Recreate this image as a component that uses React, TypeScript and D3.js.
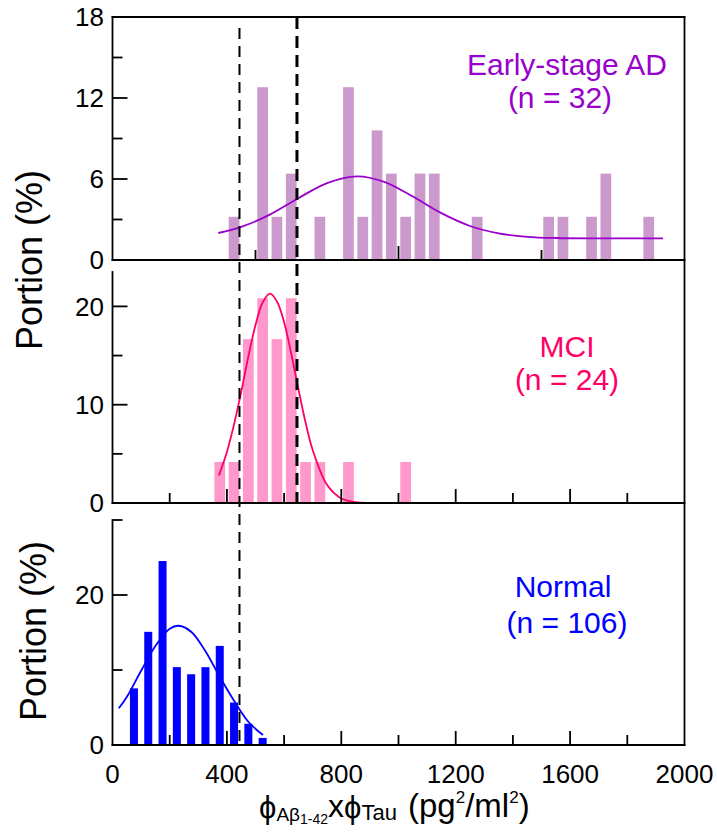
import React from 'react';
import * as d3 from 'd3';

// ---------- data ----------
// Early-stage AD (n = 32)
const adBinCenters = [425, 525, 575, 625, 725, 825, 875, 925, 975, 1025, 1075, 1125, 1275, 1525, 1575, 1675, 1725, 1875];
const adPortion = [3.2, 12.8, 3.2, 6.4, 3.2, 12.8, 3.2, 9.6, 6.4, 3.2, 6.4, 6.4, 3.2, 3.2, 3.2, 3.2, 6.4, 3.2];
const adFitX = [370, 450, 550, 650, 750, 855, 950, 1050, 1150, 1250, 1350, 1450, 1550, 1700, 1925];
const adFitY = [2.0, 2.45, 3.36, 4.58, 5.7, 6.2, 5.79, 4.7, 3.47, 2.52, 1.97, 1.72, 1.63, 1.6, 1.6];

// MCI (n = 24)
const mciBinCenters = [375, 425, 475, 525, 575, 625, 675, 725, 825, 1025];
const mciPortion = [4.17, 4.17, 16.67, 20.83, 16.67, 20.83, 4.17, 4.17, 4.17, 4.17];
const mciFitX = [372, 400, 425, 450, 475, 500, 525, 551, 575, 600, 625, 650, 675, 700, 750, 800, 850, 900, 1000, 1075];
const mciFitY = [2.8, 5.2, 8.0, 11.3, 14.9, 18.1, 20.4, 21.3, 20.5, 18.4, 15.2, 11.6, 8.2, 5.4, 1.85, 0.46, 0.09, 0.01, 0, 0];

// Normal (n = 106)
const normalBinCenters = [75, 125, 175, 225, 275, 325, 375, 425, 475, 525];
const normalPortion = [7.55, 15.09, 24.53, 10.38, 9.43, 10.38, 13.21, 5.66, 2.83, 0.94];
const normalFitX = [22, 50, 100, 150, 200, 231, 275, 325, 375, 425, 475, 526];
const normalFitY = [4.9, 6.4, 9.9, 13.2, 15.5, 15.9, 15.1, 12.5, 9.1, 5.9, 3.1, 1.33];

// cut-off lines
const cutoffLow = 444;
const cutoffHigh = 645;

// ticks
const xTickLabels = [0, 400, 800, 1200, 1600, 2000];
const xTicksFine = [200, 400, 600, 800, 1000, 1200, 1400, 1600, 1800];
const xTicksTop = [500, 1000, 1500];
const adYTicks = [0, 3, 6, 9, 12, 15, 18];
const adYLabels = [0, 6, 12, 18];
const mciYTicks = [0, 5, 10, 15, 20];
const mciYLabels = [0, 10, 20];
const normalYTicks = [0, 10, 20, 30];
const normalYLabels = [0, 20];

const FONT = "'Liberation Sans', Arial, Helvetica, sans-serif";

export default function App() {
  const x = d3.scaleLinear().domain([0, 2000]).range([112.5, 684.5]);
  const L = 112.5, R = 684.5;

  const panels = [
    {
      key: 'ad', y: d3.scaleLinear().domain([0, 18]).range([260, 17]), top: 17,
      centers: adBinCenters, vals: adPortion, fitX: adFitX, fitY: adFitY, barW: 37.5,
      barColor: '#CC99CC', lineColor: '#9900CC',
      yTicks: adYTicks, yLabels: adYLabels, xTicks: xTicksTop, xMajor: [1000],
    },
    {
      key: 'mci', y: d3.scaleLinear().domain([0, 23.5]).range([503, 272]), top: 272,
      centers: mciBinCenters, vals: mciPortion, fitX: mciFitX, fitY: mciFitY, barW: 37.5,
      barColor: '#FF99CC', lineColor: '#FF0066',
      yTicks: mciYTicks, yLabels: mciYLabels, xTicks: xTicksFine, xMajor: [400, 800, 1200, 1600],
    },
    {
      key: 'normal', y: d3.scaleLinear().domain([0, 30]).range([745, 520]), top: 520,
      centers: normalBinCenters, vals: normalPortion, fitX: normalFitX, fitY: normalFitY, barW: 28,
      barColor: '#0000FF', lineColor: '#0000FF',
      yTicks: normalYTicks, yLabels: normalYLabels, xTicks: xTicksFine, xMajor: [400, 800, 1200, 1600],
    },
  ];

  const axisW = 1.8;

  return (
    <svg width={717} height={834} style={{ position: 'absolute', left: 0, top: 0, background: '#fff' }}
      fontFamily={FONT}>
      {panels.map((p) => {
        const y0 = p.y(0);
        const line = d3.line<number>()
          .x((_, i) => x(p.fitX[i]))
          .y((d) => p.y(d))
          .curve(d3.curveCatmullRom.alpha(0.5));
        return (
          <g key={p.key}>
            {p.centers.map((c, i) => (
              <rect key={i} x={x(c - p.barW / 2)} width={x(c + p.barW / 2) - x(c - p.barW / 2)}
                y={p.y(p.vals[i])} height={y0 - p.y(p.vals[i])} fill={p.barColor} />
            ))}
            <path d={line(p.fitY) || ''} fill="none" stroke={p.lineColor} strokeWidth={1.8} />
          </g>
        );
      })}

      {/* cut-off dashed lines */}
      <line x1={x(cutoffLow)} x2={x(cutoffLow)} y1={28} y2={745} stroke="#000" strokeWidth={2} strokeDasharray="11,7" />
      <line x1={x(cutoffHigh)} x2={x(cutoffHigh)} y1={17} y2={503} stroke="#000" strokeWidth={3} strokeDasharray="12,7" />

      {/* axes */}
      {panels.map((p) => {
        const y0 = p.y(0);
        return (
          <g key={'ax' + p.key} stroke="#000" strokeWidth={axisW}>
            <line x1={L} x2={L} y1={p.top} y2={y0} strokeLinecap="square" />
            <line x1={L} x2={R} y1={y0} y2={y0} strokeLinecap="square" />
            {p.yTicks.map((t) => (
              <line key={'yt' + t} x1={L} x2={L + (p.yLabels.includes(t) ? 15 : 10)} y1={p.y(t)} y2={p.y(t)} />
            ))}
            {p.xTicks.map((t) => (
              <line key={'xt' + t} x1={x(t)} x2={x(t)} y1={y0} y2={y0 - (p.xMajor.includes(t) ? 14 : 10)} />
            ))}
          </g>
        );
      })}
      {/* frame top and right */}
      <line x1={L} x2={R} y1={17} y2={17} stroke="#000" strokeWidth={axisW} strokeLinecap="square" />
      <line x1={R} x2={R} y1={17} y2={745} stroke="#000" strokeWidth={axisW} strokeLinecap="square" />

      {/* y tick labels */}
      {panels.map((p) => (
        <g key={'yl' + p.key} fontSize={26} textAnchor="end" fill="#000">
          {p.yLabels.map((t) => (
            <text key={t} x={104} y={p.y(t)} dy="0.36em">{t}</text>
          ))}
        </g>
      ))}

      {/* x tick labels */}
      <g fontSize={26} textAnchor="middle" fill="#000">
        {xTickLabels.map((t) => (
          <text key={t} x={x(t)} y={783}>{t}</text>
        ))}
      </g>

      {/* y axis titles */}
      <text transform="translate(42,260) rotate(-90)" textAnchor="middle" fontSize={36}>Portion (%)</text>
      <text transform="translate(46,631) rotate(-90)" textAnchor="middle" fontSize={36}>Portion (%)</text>

      {/* panel labels */}
      <g fontSize={30} textAnchor="middle">
        <text x={567} y={75} fill="#9900CC">Early-stage AD</text>
        <text x={560} y={108} fill="#9900CC">(n = 32)</text>
        <text x={567} y={357} fill="#FF0066">MCI</text>
        <text x={567} y={390} fill="#FF0066">(n = 24)</text>
        <text x={563} y={597} fill="#0000FF">Normal</text>
        <text x={567} y={633} fill="#0000FF">(n = 106)</text>
      </g>

      {/* x axis title */}
      <g fill="#000">
        <text x={259} y={818}>
          <tspan fontSize={31}>ϕ</tspan>
          <tspan fontSize={19} dy={3}>Aβ</tspan>
          <tspan fontSize={14} dy={3}>1-42</tspan>
          <tspan fontSize={32} dy={-7}>x</tspan>
          <tspan fontSize={31} dy={1}>ϕ</tspan>
          <tspan fontSize={22} dy={2}>Tau</tspan>
        </text>
        <text x={408} y={817} fontSize={33}>
          <tspan>(pg</tspan>
          <tspan fontSize={17} dy={-14}>2</tspan>
          <tspan dy={14}>/ml</tspan>
          <tspan fontSize={17} dy={-14}>2</tspan>
          <tspan dy={14}>)</tspan>
        </text>
      </g>
    </svg>
  );
}
